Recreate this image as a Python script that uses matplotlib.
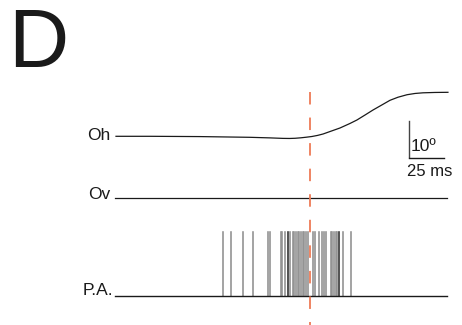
import matplotlib
matplotlib.use("Agg")
import matplotlib.pyplot as plt

plt.rcParams['font.family'] = ['Liberation Sans', 'DejaVu Sans']
plt.rcParams['lines.scale_dashes'] = False

# ---- data (time in ms, angle in degrees) ----
oh_t = [0, 24.3, 60.0, 95.7, 110.0, 119.3, 124.0, 127.9, 132.0, 136.0, 140.0,
        144.0, 147.9, 152.9, 160.0, 167.1, 172.1, 177.9, 183.6, 188.6, 195.7,
        201.4, 207.9, 213.6, 219.3, 227.9, 237.1]
oh_deg = [0, 0, -0.08, -0.28, -0.44, -0.58, -0.6, -0.55, -0.42, -0.25, -0.05,
          0.25, 0.64, 1.33, 2.31, 3.56, 4.53, 5.92, 7.31, 8.42, 10.0,
          10.85, 11.55, 11.9, 12.08, 12.18, 12.22]
ov_t = [-0.7, 236.4]
ov_deg = [0, 0]
spike_times = [76.2, 81.9, 90.5, 97.6, 108.9, 110.1, 117.6, 118.9, 120.4, 123.2,
               124.3, 126.1, 127.4, 128.6, 129.8, 130.9, 132.1, 133.4, 134.5,
               135.7, 136.9, 140.9, 142.5, 145.0, 147.5, 148.7, 150.0, 153.4,
               154.5, 155.7, 156.9, 158.1, 159.6, 162.1, 167.9]
dark_spikes = [123.2, 159.6]
pa_t = [-0.7, 236.4]
event_t = 138.9
labels = ["Oh", "Ov", "P.A."]
scale_ms = 25
scale_deg = 10

# ---- layout offsets ----
ov_off = -17.22
pa_off = -44.36
spike_h = 17.64

fig = plt.figure(figsize=(4.62, 3.25), dpi=100)
ax = fig.add_axes([0, 0, 1, 1])
ax.set_xlim(-82.857, 247.143)
ax.set_ylim(-52.417, 37.861)
ax.axis('off')

ax.plot(oh_t, oh_deg, color='#1a1a1a', lw=0.9, solid_joinstyle='round')
ax.plot(ov_t, [v + ov_off for v in ov_deg], color='#1a1a1a', lw=0.9)
for s in spike_times:
    c = '#2a2a2a' if s in dark_spikes else '#8f8f8f'
    ax.plot([s, s], [pa_off, pa_off + spike_h], color=c, lw=1.15)
ax.plot(pa_t, [pa_off, pa_off], color='#1a1a1a', lw=1.0)

ax.plot([event_t, event_t], [12.3, -52.4], color='#ee7b56', lw=1.3,
        dashes=(9.0, 9.4))

# scale bar
sx, sy = 209.3, -5.75
ax.plot([sx, sx], [sy, sy + scale_deg], color='#444444', lw=1.0)
ax.plot([sx, sx + scale_ms], [sy - 0.3, sy - 0.3], color='#1a1a1a', lw=1.0)
ax.text(sx + 1.5, sy + 1.6, "10º", fontsize=12.5, ha='left', va='baseline', color='#1a1a1a')
ax.text(sx + scale_ms / 2 + 2, sy - 5.3, f"{scale_ms} ms", fontsize=12, ha='center', va='baseline', color='#1a1a1a')

# labels
ax.text(-4.3, -1.0, labels[0], fontsize=12.5, ha='right', va='baseline', color='#1a1a1a')
ax.text(-4.3, ov_off - 0.3, labels[1], fontsize=12.5, ha='right', va='baseline', color='#1a1a1a')
ax.text(-1.9, pa_off + 0.3, labels[2], fontsize=12.5, ha='right', va='baseline', color='#1a1a1a')

ax.text(-77.0, 19.3, "D", fontsize=60, ha='left', va='baseline', color='#1a1a1a')

fig.savefig("out.png", dpi=100)
